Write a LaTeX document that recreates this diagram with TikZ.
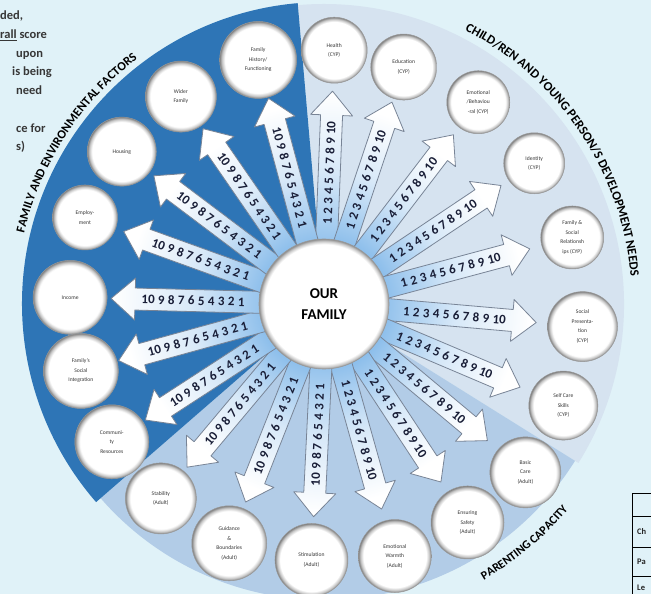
\documentclass[tikz,border=0pt]{standalone}
\usepackage{fontspec}
\setmainfont{Carlito}
\usetikzlibrary{decorations.text,calc}
\definecolor{bgc}{RGB}{224,242,248}
\definecolor{darkc}{RGB}{46,117,182}
\definecolor{cypc}{RGB}{214,227,240}
\definecolor{parc}{RGB}{178,204,231}
\definecolor{arrowc}{RGB}{140,190,235}
\definecolor{numc}{RGB}{25,30,55}
\definecolor{txtc}{RGB}{55,55,55}
\definecolor{edgec}{RGB}{120,132,150}
\pgfdeclareradialshading{ballshade}{\pgfpoint{0bp}{0bp}}{color(0bp)=(white); color(21.5bp)=(white); color(23.5bp)=(black!22); color(25bp)=(black!50); color(50bp)=(black!50)}
\pgfdeclareradialshading{bigshade}{\pgfpoint{0bp}{0bp}}{color(0bp)=(white); color(23bp)=(white); color(24.2bp)=(black!22); color(25bp)=(black!45); color(50bp)=(black!45)}
\newcommand\numsup{1\hspace{3.4pt}2\hspace{3.4pt}3\hspace{3.4pt}4\hspace{3.4pt}5\hspace{3.4pt}6\hspace{3.4pt}7\hspace{3.4pt}8\hspace{3.4pt}9\hspace{3.4pt}10}
\newcommand\numsdown{10\hspace{3.4pt}9\hspace{3.4pt}8\hspace{3.4pt}7\hspace{3.4pt}6\hspace{3.4pt}5\hspace{3.4pt}4\hspace{3.4pt}3\hspace{3.4pt}2\hspace{3.4pt}1}
\newcommand\famarrow[3]{%
\pgfmathsetmacro\shadeang{#1-90}%
\begin{scope}[shift={(O)},rotate=#1]
\path[arrowbody, shading angle=\shadeang] (50,-11) -- (189,-11) -- (189,-21) -- (213,0) -- (189,21) -- (189,11) -- (50,11) -- cycle;
\node[numtext, rotate=#2] at (131,0) {#3};
\end{scope}}
\tikzset{
  arrowbody/.style={draw=edgec, line width=0.8pt, line join=round, top color=white, bottom color=arrowc, middle color=arrowc!35!white},
  numtext/.style={font=\fontsize{13}{13}\selectfont\bfseries, text=numc, inner sep=0pt},
  ball/.style={circle, shade, shading=ballshade, draw=black!40, line width=0.5pt, text=txtc, align=center, inner sep=0pt, font=\fontsize{5.6}{9.5}\selectfont},
  bigball/.style={circle, shade, shading=bigshade, draw=black!40, line width=0.6pt, text=black, align=center, inner sep=0pt, minimum size=130pt, font=\fontsize{15}{21}\selectfont\bfseries},
  curvetext/.style 2 args={decorate, decoration={text along path, text align=center, text={|\fontsize{#1}{#1}\selectfont\bfseries|#2}}},
  sidetext/.style={anchor=base west, inner sep=0pt, text=txtc, font=\fontsize{12.5}{12.5}\selectfont\bfseries},
  tabletext/.style={anchor=base west, inner sep=0pt, text=black!85, font=\fontsize{8.5}{8.5}\selectfont\bfseries}
}
\begin{document}
\begin{tikzpicture}[x=1pt,y=1pt]
\useasboundingbox (0,0) rectangle (651,594);
\fill[bgc] (0,0) rectangle (651,594);
\coordinate (O) at (324,290);
% sectors
\fill[cypc] (O) -- ($(O)+(-32:300)$) arc[start angle=-32, end angle=95, radius=300] -- cycle;
\fill[parc] (O) -- ($(O)+(221:296)$) arc[start angle=221, end angle=328, radius=296] -- cycle;
\fill[darkc] (O) -- ($(O)+(95:302)$) arc[start angle=95, end angle=221, radius=302] -- cycle;
% curved titles
\path[curvetext={12.5}{FAMILY AND ENVIRONMENTAL FACTORS}] ($(O)+(192:308)$) arc[start angle=192, end angle=102, radius=308];
\path[curvetext={12.8}{CHILD/REN AND YOUNG PERSON/S DEVELOPMENT NEEDS}] ($(O)+(74:308)$) arc[start angle=74, end angle=-6, radius=308];
\path[curvetext={12}{PARENTING CAPACITY}] ($(O)+(-80:319)$) arc[start angle=-80, end angle=-20, radius=319];
% arrows
\famarrow{87.7}{87.7}{\numsup}
\famarrow{71.4}{71.4}{\numsup}
\famarrow{52.6}{52.6}{\numsup}
\famarrow{33.8}{33.8}{\numsup}
\famarrow{15}{15}{\numsup}
\famarrow{-5}{-5}{\numsup}
\famarrow{-23}{-23}{\numsup}
\famarrow{-39.9}{-39.9}{\numsup}
\famarrow{-56.7}{-56.7}{\numsup}
\famarrow{-74.3}{-74.3}{\numsup}
\famarrow{-92.8}{87.2}{\numsdown}
\famarrow{-111.6}{68.4}{\numsdown}
\famarrow{-130}{50}{\numsdown}
\famarrow{-147}{33}{\numsdown}
\famarrow{-164.6}{15.4}{\numsdown}
\famarrow{178.5}{-1.5}{\numsdown}
\famarrow{160.1}{-19.9}{\numsdown}
\famarrow{143}{-37}{\numsdown}
\famarrow{124.6}{-55.4}{\numsdown}
\famarrow{105.1}{-74.9}{\numsdown}
% centre
\node[bigball] (family) at (O) {OUR\\FAMILY};
% CYP circles
\node[ball, minimum size=66pt] (health) at ($(O)+(87.7:254)$) {Health\\(CYP)};
\node[ball, minimum size=66pt] (education) at ($(O)+(71.4:250)$) {Education\\(CYP)};
\node[ball, minimum size=63pt] (emotional) at ($(O)+(52.6:254)$) {Emotional\\/Behaviou\\-ral (CYP)};
\node[ball, minimum size=61pt] (identity) at ($(O)+(33.8:253)$) {Identity\\(CYP)};
\node[ball, minimum size=63pt] (famsocial) at ($(O)+(15:257)$) {Family \&\\Social\\Relationsh\\ips (CYP)};
\node[ball, minimum size=70pt] (socpres) at ($(O)+(-5:259.5)$) {Social\\Presenta-\\tion\\(CYP)};
\node[ball, minimum size=69pt] (selfcare) at ($(O)+(-23:260)$) {Self Care\\Skills\\(CYP)};
% parenting circles
\node[ball, minimum size=71pt] (basic) at ($(O)+(-39.9:262.5)$) {Basic\\Care\\(Adult)};
\node[ball, minimum size=73pt] (safety) at ($(O)+(-56.7:261.4)$) {Ensuring\\Safety\\(Adult)};
\node[ball, minimum size=73pt] (warmth) at ($(O)+(-74.3:261.8)$) {Emotional\\Warmth\\(Adult)};
\node[ball, minimum size=73pt] (stimulation) at ($(O)+(-92.8:256.3)$) {Stimulation\\(Adult)};
\node[ball, minimum size=75pt] (guidance) at ($(O)+(-111.6:257.4)$) {Guidance\\\&\\Boundaries\\(Adult)};
\node[ball, minimum size=71pt] (stability) at ($(O)+(-130:253.8)$) {Stability\\(Adult)};
% family circles
\node[ball, minimum size=74pt] (community) at ($(O)+(-147:253)$) {Communi-\\ty\\Resources};
\node[ball, minimum size=75pt] (integration) at ($(O)+(-164.6:252.2)$) {Family's\\Social\\Integration};
\node[ball, minimum size=74pt] (income) at ($(O)+(178.5:254)$) {Income};
\node[ball, minimum size=65pt] (employment) at ($(O)+(160.1:254.2)$) {Employ-\\ment};
\node[ball, minimum size=69pt] (housing) at ($(O)+(143:253.2)$) {Housing};
\node[ball, minimum size=71pt] (wider) at ($(O)+(124.6:252)$) {Wider\\Family};
\node[ball, minimum size=77pt] (history) at ($(O)+(105.1:252.8)$) {Family\\History/\\Functioning};
% cut-off side text
\node[sidetext] (s1) at (0,574) {ded,};
\node[sidetext] (s2) at (0,555) {\underline{rall} score};
\node[sidetext] (s3) at (16,536) {upon};
\node[sidetext] (s4) at (12,518) {is being};
\node[sidetext] (s5) at (16,499) {need};
\node[sidetext] (s6) at (16,461) {ce for};
\node[sidetext] (s7) at (16,443) {s)};
% cut-off table
\draw[black, line width=0.8pt] (632,-2) -- (632,101) -- (655,101);
\draw[black, line width=0.8pt] (632,78) -- (655,78);
\draw[black, line width=0.8pt] (632,47) -- (655,47);
\draw[black, line width=0.8pt] (632,18) -- (655,18);
\node[tabletext] (t1) at (637,59) {Ch};
\node[tabletext] (t2) at (637,29) {Pa};
\node[tabletext] (t3) at (637,3) {Le};
\end{tikzpicture}
\end{document}
